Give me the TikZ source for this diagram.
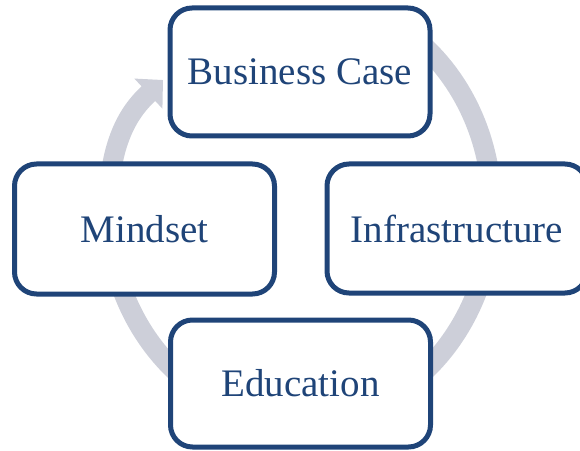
\documentclass[tikz,border=0pt]{standalone}
\usepackage{fontspec}
\setmainfont{Liberation Serif}
\usetikzlibrary{arrows.meta}
\definecolor{ringgray}{RGB}{205,207,217}
\definecolor{boxblue}{RGB}{31,68,120}
\begin{document}
\begin{tikzpicture}[x=1pt,y=1pt,
                    stage/.style={draw=boxblue,line width=5pt,fill=white,rounded corners=22pt,
                      minimum width=260pt,minimum height=128pt,text=boxblue,inner sep=0pt,
                      font=\fontsize{39}{45}\selectfont},
                    ring/.style={draw=ringgray,line width=20pt,-{Triangle[width=40pt,length=20pt]}}]
                    \useasboundingbox (0,0) rectangle (580,450);

                    \coordinate (O) at (300,241);
                    \coordinate (tip) at (163,370);
                    \draw[ring] (O) ++(55:192 and 213)
                      arc[start angle=55,end angle=-195,x radius=192,y radius=213]
                      to[out=76,in=223] (tip);

                    \node[stage] (bizcase) at (300,378) {Business Case};
                    \node[stage,minimum height=130pt] (mindset) at (144.5,221) {Mindset};
                    \node[stage,minimum height=129pt] (infra) at (457,221.5) {Infrastructure};
                    \node[stage,minimum height=127pt] (edu) at (300.5,66.5) {Education};
                \end{tikzpicture}
\end{document}
